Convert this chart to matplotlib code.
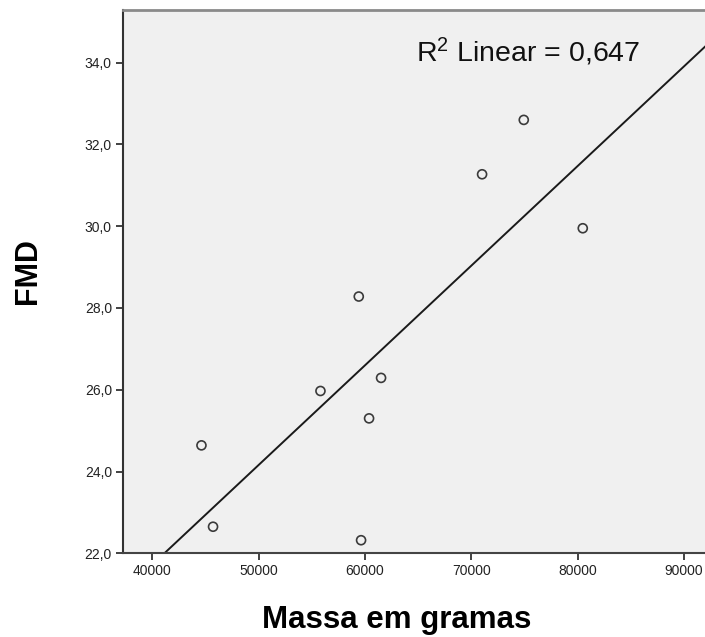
import numpy as np
import matplotlib
matplotlib.use('Agg')
import matplotlib.pyplot as plt
from matplotlib.ticker import FuncFormatter

# massa (g) e FMD
massa = [44610, 45700, 71007, 59407, 55804, 61505, 60376, 74929, 80478, 59624]
fmd = [24.64, 22.65, 31.27, 28.28, 25.97, 26.29, 25.30, 32.60, 29.95, 22.32]
x_ticks = [40000, 50000, 60000, 70000, 80000, 90000]
y_ticks = [22.0, 24.0, 26.0, 28.0, 30.0, 32.0, 34.0]
r2_label = '0,647'

plt.rcParams['font.family'] = ['Liberation Sans', 'DejaVu Sans']
plt.rcParams['mathtext.fontset'] = 'custom'
plt.rcParams['mathtext.rm'] = 'Liberation Sans'

fig = plt.figure(figsize=(7.05, 6.37), dpi=100)
ax = fig.add_axes([123 / 705, 83.7 / 637, 582 / 705, 543.8 / 637])
ax.set_facecolor('#f0f0f0')

ax.scatter(massa, fmd, s=42, facecolors='none', edgecolors='#3a3a3a',
           linewidths=1.2, zorder=3)

# reta de regressão linear
coef = np.polyfit(massa, fmd, 1)
xs = np.array([30000, 100000])
ax.plot(xs, np.polyval(coef, xs), color='#1a1a1a', lw=1.4, zorder=2)

ax.set_xlim(37230, 91975)
ax.set_ylim(22.0, 35.3)
ax.set_xticks(x_ticks)
ax.set_yticks(y_ticks)
ax.yaxis.set_major_formatter(FuncFormatter(lambda v, p: ('%.1f' % v).replace('.', ',')))
ax.tick_params(axis='both', direction='out', length=5, width=1.3, color='#333333',
               labelsize=10, labelcolor='#222222', pad=3)

ax.spines['right'].set_visible(False)
ax.spines['top'].set_color('#8a8a8a')
ax.spines['top'].set_linewidth(2)
ax.spines['left'].set_color('#333333')
ax.spines['bottom'].set_color('#444444')
ax.spines['left'].set_linewidth(1.5)
ax.spines['bottom'].set_linewidth(1.5)

ax.text(0.503, 0.903, '$\\mathregular{R^2}$ Linear = ' + r2_label,
        transform=ax.transAxes, fontsize=20.5, va='baseline', ha='left', color='#111111')

fig.text(397 / 705, 1 - 628.3 / 637, 'Massa em gramas', fontsize=22.5,
         fontweight='bold', ha='center', va='baseline')
fig.text(27.5 / 705, 1 - 271 / 637, 'FMD', fontsize=22, fontweight='bold',
         rotation=90, ha='center', va='center')

plt.savefig('out.png', dpi=100)
